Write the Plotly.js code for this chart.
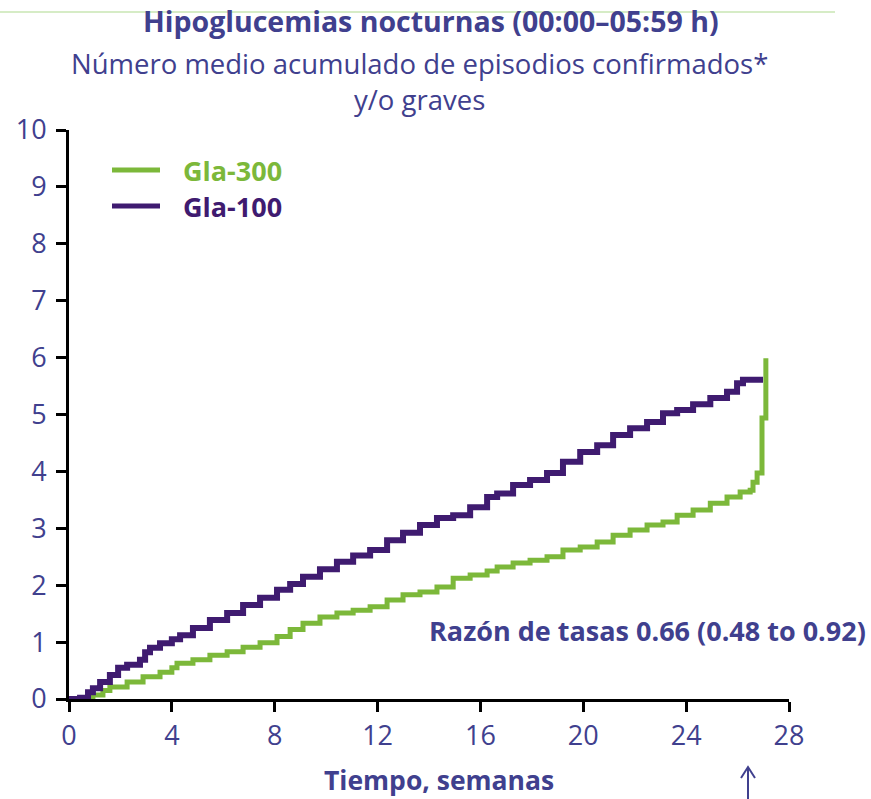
<!DOCTYPE html>
<html>
<head>
<meta charset="utf-8">
<script src="https://cdn.plot.ly/plotly-3.0.1.min.js"></script>
<style>
  html, body { margin: 0; padding: 0; background: #ffffff; }
  #chart { width: 871px; height: 799px; }
</style>
</head>
<body>
<div id="chart"></div>
<script>
// Mean cumulative number of nocturnal hypoglycaemia events over time (weeks)
const weeksGla100 = [0, 0.43, 0.74, 0.93, 1.21, 1.59, 1.91, 2.26, 2.76, 2.96, 3.15, 3.54, 4.0, 4.32, 4.82,
  5.48, 6.15, 6.77, 7.43, 8.09, 8.6, 9.1, 9.76, 10.42, 11.05, 11.71, 12.37, 12.99, 13.65, 14.31,
  14.94, 15.6, 16.26, 16.65, 17.27, 17.93, 18.59, 19.21, 19.88, 20.54, 21.16, 21.82, 22.48, 23.1,
  23.65, 24.27, 24.94, 25.59, 25.98, 26.21, 26.99];
const eventsGla100 = [0, 0.02, 0.12, 0.19, 0.3, 0.42, 0.55, 0.6, 0.69, 0.82, 0.9, 0.98, 1.05, 1.12, 1.25,
  1.39, 1.51, 1.65, 1.78, 1.92, 2.02, 2.15, 2.28, 2.41, 2.52, 2.62, 2.79, 2.92, 3.06, 3.18,
  3.23, 3.37, 3.55, 3.61, 3.76, 3.85, 3.97, 4.17, 4.34, 4.46, 4.64, 4.76, 4.87, 5.02,
  5.08, 5.18, 5.29, 5.4, 5.55, 5.61, 5.61];

const weeksGla300 = [0, 0.43, 0.93, 1.32, 1.59, 2.26, 2.88, 3.54, 4.0, 4.2, 4.82, 5.48, 6.15, 6.77, 7.43,
  8.09, 8.6, 9.1, 9.76, 10.42, 11.05, 11.71, 12.37, 12.99, 13.65, 14.31, 14.94, 15.6, 16.26, 16.65,
  17.27, 17.93, 18.59, 19.21, 19.88, 20.54, 21.16, 21.82, 22.48, 23.1, 23.65, 24.27, 24.94, 25.59,
  26.1, 26.49, 26.6, 26.76, 26.95, 27.1];
const eventsGla300 = [0, 0.01, 0.07, 0.15, 0.21, 0.3, 0.39, 0.47, 0.55, 0.63, 0.69, 0.77, 0.83, 0.91, 0.99,
  1.1, 1.22, 1.33, 1.44, 1.51, 1.56, 1.62, 1.74, 1.83, 1.88, 1.97, 2.12, 2.18, 2.25, 2.32,
  2.39, 2.44, 2.5, 2.62, 2.67, 2.76, 2.88, 2.97, 3.06, 3.11, 3.23, 3.32, 3.44, 3.55,
  3.64, 3.67, 3.81, 3.97, 4.94, 5.99];

const xTicks = [0, 4, 8, 12, 16, 20, 24, 28];
const yTicks = [0, 1, 2, 3, 4, 5, 6, 7, 8, 9, 10];

const seriesNames = ['Gla-300', 'Gla-100'];
const seriesColors = ['#7cb83a', '#3f1b70'];

const titleText = '<b>Hipoglucemias nocturnas (00:00–05:59 h)</b>';
const subtitleLine1 = 'Número medio acumulado de episodios confirmados*';
const subtitleLine2 = 'y/o graves';
const rateText = '<b>Razón de tasas 0.66 (0.48 to 0.92)</b>';
const xAxisTitle = '<b>Tiempo, semanas</b>';

const textColor = '#40408e';
const fontFamily = '"Open Sans", "Noto Sans", sans-serif';

const traces = [
  {
    x: weeksGla300, y: eventsGla300, name: seriesNames[0],
    type: 'scatter', mode: 'lines', line: { shape: 'hv', color: seriesColors[0], width: 5 }
  },
  {
    x: weeksGla100, y: eventsGla100, name: seriesNames[1],
    type: 'scatter', mode: 'lines', line: { shape: 'hv', color: seriesColors[1], width: 6 }
  }
];

const axisCommon = {
  showgrid: false, zeroline: false,
  showline: true, linecolor: '#000000', linewidth: 3,
  ticks: 'outside', ticklen: 10, tickwidth: 3, tickcolor: '#000000',
  tickfont: { family: fontFamily, size: 27, color: textColor },
  fixedrange: true
};

// helpers: pixel position -> paper fraction of the 720 x 569 plot area
const px = v => (v - 69) / 720;
const py = v => (699 - v) / 569;

const layout = {
  width: 871, height: 799,
  paper_bgcolor: '#ffffff', plot_bgcolor: '#ffffff',
  margin: { l: 69, r: 82, t: 130, b: 100 },
  showlegend: false,
  font: { family: fontFamily, color: textColor },
  xaxis: Object.assign({}, axisCommon, {
    range: [0, 28], tickvals: xTicks, ticktext: xTicks.map(String), ticklabelstandoff: 1
  }),
  yaxis: Object.assign({}, axisCommon, {
    range: [0, 10], tickvals: yTicks, ticktext: yTicks.map(String), ticklabelstandoff: 4
  }),
  shapes: [
    // thin header rule
    { type: 'line', xref: 'paper', yref: 'paper', x0: px(0), x1: px(835), y0: py(12), y1: py(12),
      line: { color: '#d6ecc6', width: 2 } },
    // legend keys
    { type: 'line', xref: 'paper', yref: 'paper', x0: px(112), x1: px(160), y0: py(170), y1: py(170),
      line: { color: seriesColors[0], width: 5 } },
    { type: 'line', xref: 'paper', yref: 'paper', x0: px(112), x1: px(160), y0: py(206), y1: py(206),
      line: { color: seriesColors[1], width: 5 } },
    // upward arrow under the time axis
    { type: 'path', xref: 'paper', yref: 'paper',
      path: 'M ' + px(748) + ',' + py(800) + ' L ' + px(748) + ',' + py(767),
      line: { color: textColor, width: 2 } },
    { type: 'path', xref: 'paper', yref: 'paper',
      path: 'M ' + px(741) + ',' + py(778) + ' L ' + px(748) + ',' + py(767) + ' L ' + px(755) + ',' + py(778),
      line: { color: textColor, width: 2 } }
  ],
  annotations: [
    { text: titleText, xref: 'paper', yref: 'paper', x: px(431), y: py(21), xanchor: 'center', yanchor: 'middle',
      showarrow: false, font: { family: fontFamily, size: 28.5, color: textColor } },
    { text: subtitleLine1, xref: 'paper', yref: 'paper', x: px(419), y: py(63), xanchor: 'center', yanchor: 'middle',
      showarrow: false, font: { family: fontFamily, size: 27.5, color: textColor } },
    { text: subtitleLine2, xref: 'paper', yref: 'paper', x: px(419), y: py(100), xanchor: 'center', yanchor: 'middle',
      showarrow: false, font: { family: fontFamily, size: 27.5, color: textColor } },
    { text: '<b>' + seriesNames[0] + '</b>', xref: 'paper', yref: 'paper', x: px(181), y: py(170), xanchor: 'left', yanchor: 'middle',
      showarrow: false, font: { family: fontFamily, size: 27, color: seriesColors[0] } },
    { text: '<b>' + seriesNames[1] + '</b>', xref: 'paper', yref: 'paper', x: px(181), y: py(206), xanchor: 'left', yanchor: 'middle',
      showarrow: false, font: { family: fontFamily, size: 27, color: seriesColors[1] } },
    { text: rateText, xref: 'paper', yref: 'paper', x: px(868), y: py(630), xanchor: 'right', yanchor: 'middle',
      showarrow: false, font: { family: fontFamily, size: 27, color: textColor } },
    { text: xAxisTitle, xref: 'paper', yref: 'paper', x: px(439), y: py(780), xanchor: 'center', yanchor: 'middle',
      showarrow: false, font: { family: fontFamily, size: 26.5, color: textColor } }
  ]
};

Plotly.newPlot('chart', traces, layout, { staticPlot: true, displayModeBar: false });
</script>
</body>
</html>
